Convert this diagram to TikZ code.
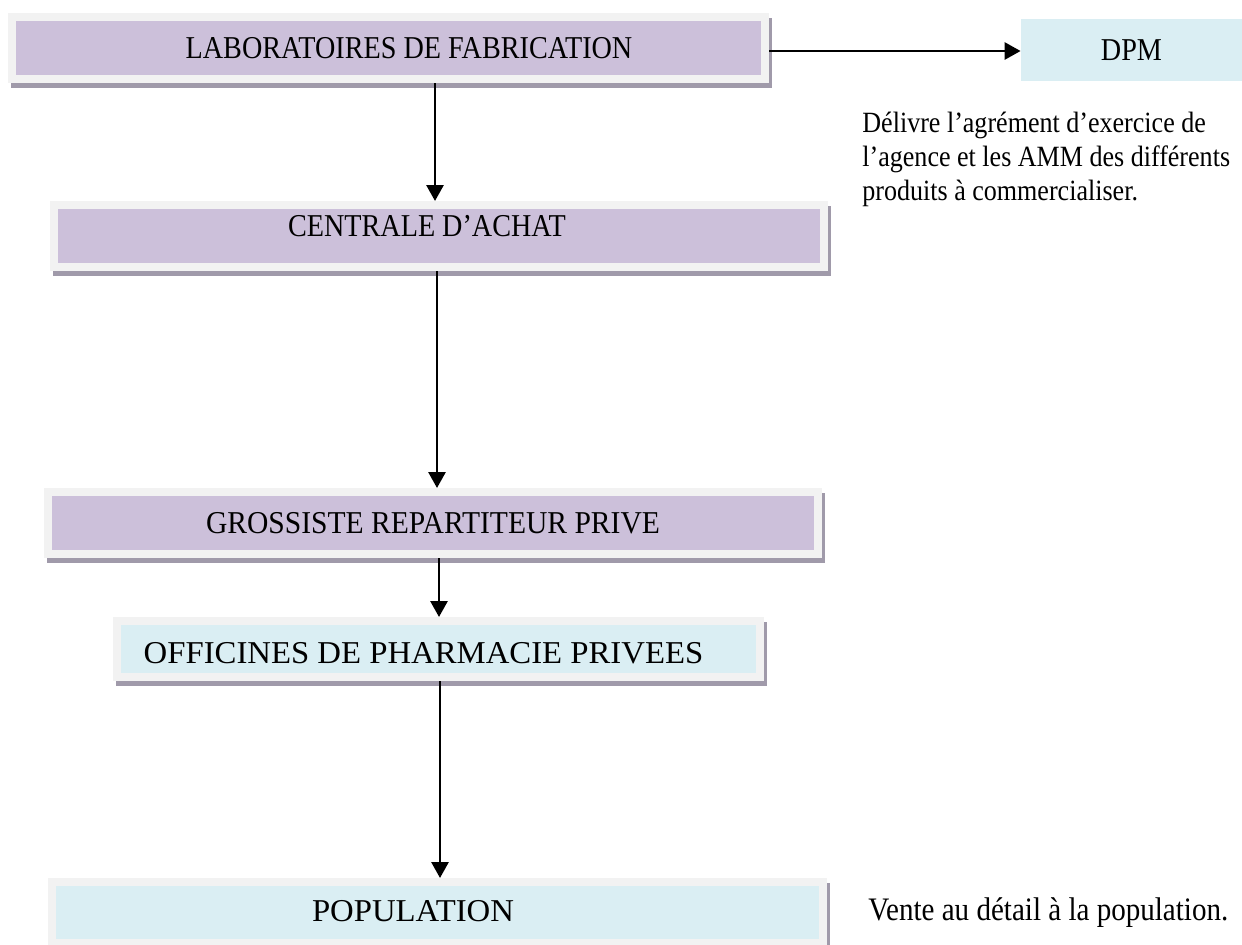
\documentclass[tikz,border=0pt]{standalone}
\usepackage{fontspec}
\setmainfont[FakeStretch=0.886]{Liberation Serif}
\newfontfamily\midserif[FakeStretch=0.93]{Liberation Serif}
\newfontfamily\wideserif[FakeStretch=1.03]{Liberation Serif}
\usetikzlibrary{arrows.meta}
\definecolor{framegray}{HTML}{F2F2F2}
\definecolor{lavender}{HTML}{CCC0DA}
\definecolor{paleblue}{HTML}{DAEEF3}
\definecolor{shadowgray}{HTML}{A09AAA}
\tikzset{
  frame/.style={draw=framegray, line width=4pt, inner sep=0pt, minimum height=31pt,
    preaction={draw=shadowgray, fill=shadowgray, line width=4pt,
      transform canvas={shift={(1.5pt,-2.5pt)}}}},
  flow/.style={-{Triangle[length=8pt,width=8.5pt]}, line width=1.4pt},
  caps/.style={font=\fontsize{15.9}{16.5}\selectfont, inner sep=0pt},
  note/.style={font=\fontsize{14.7}{16.8}\selectfont, inner sep=0pt},
}

\begin{document}
\begin{tikzpicture}[x=0.5pt, y=-0.5pt]
    \useasboundingbox (0,0) rectangle (1242,944);

        % Boxes
        \node[frame, fill=lavender, minimum width=376.5pt] (lab) at (388.5,48) {};
        \node[frame, fill=lavender, minimum width=385pt] (cen) at (439,236) {};
        \node[frame, fill=lavender, minimum width=385pt] (gro) at (433,523) {};
        \node[frame, fill=paleblue, minimum width=321.5pt, minimum height=28pt] (off) at (438.5,649) {};
        \node[frame, fill=paleblue, minimum width=385.5pt, minimum height=30.5pt] (pop) at (437.5,912.5) {};
        \node[caps, fill=paleblue, minimum width=110.5pt, minimum height=31pt] (dpm) at (1131.5,50) {DPM};

        % Box texts
        \node[caps] (labtxt) at (409,48.5) {LABORATOIRES DE FABRICATION};
        \node[caps] (centxt) at (427,226) {CENTRALE D’ACHAT};
        \node[caps] (grotxt) at (433,523) {\midserif GROSSISTE REPARTITEUR PRIVE};
        \node[caps] (offtxt) at (423.5,653) {\wideserif OFFICINES DE PHARMACIE PRIVEES};
        \node[caps] (poptxt) at (413,911) {\wideserif POPULATION};

        % Notes
        \node[note, anchor=north west, align=left] (desc) at (862,112)
            {Délivre l’agrément d’exercice de\\l’agence et les AMM des différents\\produits à commercialiser.};
        \node[note, font=\fontsize{16.4}{18}\selectfont, anchor=base west] (vente) at (868,920)
            {Vente au détail à la population.};

        % Flow arrows
        \draw[flow] (lab.east |- 0,51) -- (dpm.west |- 0,51);
        \draw[flow] (lab.south -| 435,0) -- (cen.north -| 435,0);
        \draw[flow] (cen.south -| 437,0) -- (gro.north -| 437,0);
        \draw[flow] (gro.south -| 439,0) -- (off.north -| 439,0);
        \draw[flow] (off.south -| 440,0) -- (pop.north -| 440,0);

\end{tikzpicture}
\end{document}
